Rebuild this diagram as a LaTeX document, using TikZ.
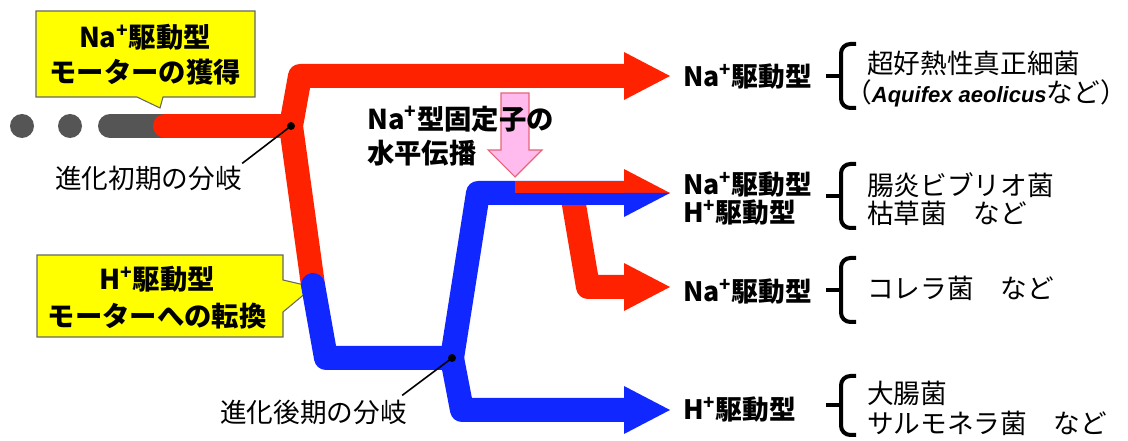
\documentclass[tikz,border=0pt]{standalone}
\usepackage{fontspec}
\setmainfont{Noto Sans CJK JP}
\newfontfamily\latin{Liberation Sans}
\usetikzlibrary{calc}
\definecolor{rd}{RGB}{255,34,0}
\definecolor{bl}{RGB}{16,40,255}
\definecolor{gy}{RGB}{85,85,85}
\definecolor{pk}{RGB}{255,187,238}
\definecolor{pkb}{RGB}{230,100,120}
\definecolor{yl}{RGB}{255,255,0}
\newcommand{\mybrc}[3]{% x, top y, bottom y
  \draw[brc] (#1+15,#2) -- (#1,#2) -- (#1,#3) -- (#1+15,#3);
  \draw[brc, line cap=butt] (#1-15,{(#2+#3)/2}) -- (#1,{(#2+#3)/2});}
\begin{document}
\begin{tikzpicture}[x=0.75pt,y=-0.75pt,
  trunk/.style={line width=18pt, line join=round},
  callout/.style={fill=yl, draw=gray!80!black, line width=0.8pt},
  lbl/.style={font=\fontsize{20}{21}\selectfont\bfseries, anchor=west, inner sep=0pt, align=left},
  txt/.style={font=\fontsize{20}{22.5}\selectfont, anchor=west, inner sep=0pt, align=left},
  ctext/.style={font=\fontsize{20.5}{26}\selectfont\bfseries, inner sep=0pt, align=center},
  brc/.style={line width=3pt, rounded corners=7pt},
  leader/.style={line width=1.2pt},
  jdot/.style={circle, fill=black, inner sep=0pt, minimum size=6pt}]
\useasboundingbox (0,0) rectangle (1128,441);
% key points
\coordinate (R0) at (165,126);
\coordinate (A) at (291,126);
\coordinate (T) at (300,76);
\coordinate (B) at (313,285);
\coordinate (D) at (326,358);
\coordinate (C) at (452,358);
\coordinate (U) at (478,193);
\coordinate (L) at (462,410);
\coordinate (S) at (572,193);
\coordinate (K) at (588,287);
\coordinate (E1) at (624,76);
\coordinate (E2) at (624,193);
\coordinate (E3) at (624,287);
\coordinate (E4) at (624,410);
% callouts
\draw[callout] (36,11) -- (255,11) -- (255,97) -- (163,97) -- (160,108) -- (137,97) -- (36,97) -- cycle;
\node[ctext] (c1) at (145,55) {Na\textsuperscript{+}駆動型\\モーターの獲得};
\draw[callout] (37,255) -- (283,255) -- (283,280) -- (313,287) -- (283,312) -- (283,337) -- (37,337) -- cycle;
\node[ctext, font=\fontsize{20.5}{28}\selectfont\bfseries] (c2) at (157,298) {H\textsuperscript{+}駆動型\\モーターへの転換};
% gray ancestry
\fill[gy] (22,126) circle (12);
\fill[gy] (70,126) circle (12);
\draw[gy, line width=18pt, line cap=round] (110,126) -- (R0);
% red lineages
\draw[trunk, rd, line cap=round] (R0) -- (A);
\draw[trunk, rd] (E1) -- (T) -- (A) -- (B);
\fill[rd] ($(E1)+(0,-24)$) -- ($(E1)+(46,0)$) -- ($(E1)+(0,24)$) -- cycle;
\draw[trunk, rd] (S) -- (K) -- (E3);
\fill[rd] ($(E3)+(0,-24)$) -- ($(E3)+(46,0)$) -- ($(E3)+(0,24)$) -- cycle;
% blue lineages
\draw[trunk, bl, line cap=round] (B) -- (D) -- (C);
\draw[trunk, bl] (C) -- (U) -- (E2);
\draw[trunk, bl] (C) -- (L) -- (E4);
\fill[bl] ($(E4)+(0,-24)$) -- ($(E4)+(46,0)$) -- ($(E4)+(0,24)$) -- cycle;
% mixed middle arrow
\fill[rd] (515,181) rectangle (E2);
\fill[rd] ($(E2)+(0,-24)$) -- ($(E2)+(46,0)$) -- (E2) -- cycle;
\fill[bl] (E2) -- ($(E2)+(46,0)$) -- ($(E2)+(0,24)$) -- cycle;
% horizontal transfer arrow
\draw[fill=pk, draw=pkb, line width=0.8pt] (501,93) -- (529,93) -- (529,150) -- (542,150) -- (515,177) -- (488,150) -- (501,150) -- cycle;
\node[txt, font=\fontsize{20.5}{26}\selectfont\bfseries] (ht) at (367,136) {Na\textsuperscript{+}型固定子の\\水平伝播};
% branch points
\node[jdot] (dA) at (A) {};
\node[jdot] (dC) at (C) {};
\node[txt] (early) at (55,178) {進化初期の分岐};
\node[txt] (late) at (220,412) {進化後期の分岐};
\draw[leader] ($(early.north east)+(0,-2)$) -- (dA.center);
\draw[leader] ($(late.north east)+(-5,-4)$) -- (dC.center);
% results
\node[lbl] (n1) at (683,77) {Na\textsuperscript{+}駆動型};
\node[lbl] (n2) at (683,199) {Na\textsuperscript{+}駆動型\\H\textsuperscript{+}駆動型};
\node[lbl] (n3) at (683,292) {Na\textsuperscript{+}駆動型};
\node[lbl] (n4) at (683,410) {H\textsuperscript{+}駆動型};
\mybrc{841}{44}{108}
\mybrc{841}{164}{228}
\mybrc{841}{258}{322}
\mybrc{841}{376}{435}
\node[txt] (s1) at (867,63) {超好熱性真正細菌};
\node[txt, anchor=east] (s1b) at (1127,93) {（{\latin\bfseries\itshape\fontsize{16.5}{22.5}\selectfont Aquifex aeolicus}など）};
\node[txt, font=\fontsize{20}{21}\selectfont] (s2) at (867,199) {腸炎ビブリオ菌\\枯草菌　など};
\node[txt] (s3) at (867,288) {コレラ菌　など};
\node[txt] (s4) at (867,408) {大腸菌\\サルモネラ菌　など};
\end{tikzpicture}
\end{document}
